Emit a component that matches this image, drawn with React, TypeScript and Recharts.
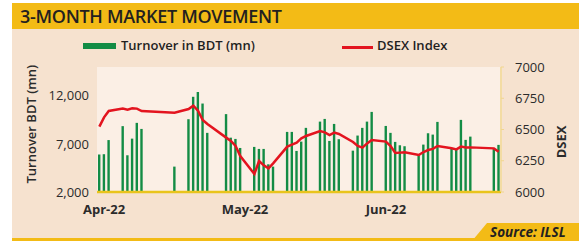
import {
  Bar,
  ComposedChart,
  Line,
  XAxis,
  YAxis,
} from "recharts";

// calendar slots (one per day), bars only on trading days
const slotCount = 86;
const tradingDays = [
  0, 1, 2, 5, 6, 7, 8, 9, 16, 19, 20, 21, 22, 23, 27, 28, 29, 30, 33, 34, 35,
  36, 37, 40, 41, 42, 43, 44, 47, 48, 49, 50, 51, 54, 55, 56, 57, 58, 61, 62,
  63, 64, 65, 68, 69, 70, 71, 72, 75, 76, 77, 78, 79, 84, 85,
];
const turnover = [
  5900, 5930, 7400, 8850, 5820, 7550, 9190, 8560, 4640, 9570, 11900, 12400,
  11200, 8150, 10100, 7650, 7520, 6580, 6690, 6480, 6480, 4880, 4640, 8250,
  8250, 6270, 7240, 8670, 9320, 9600, 7310, 9080, 7490, 6300, 7870, 8670, 9320,
  10330, 8870, 8150, 7210, 6860, 6760, 5930, 6930, 8110, 7970, 9290, 6480,
  6480, 9500, 7420, 7760, 6550, 6900,
];
const dsex = [
  6523, 6597, 6648, 6667, 6659, 6669, 6667, 6648, 6635, 6664, 6691, 6650, 6576,
  6544, 6435, 6408, 6368, 6288, 6144, 6248, 6213, 6189, 6229, 6363, 6379, 6395,
  6429, 6448, 6488, 6477, 6456, 6475, 6464, 6400, 6368, 6355, 6389, 6416, 6403,
  6368, 6312, 6315, 6317, 6296, 6320, 6336, 6345, 6368, 6350, 6341, 6363, 6357,
  6357, 6349, 6322,
];
const monthSlots = [1, 31, 61];
const monthLabels = ["Apr-22", "May-22", "Jun-22"];
const leftTicks = [2000, 7000, 12000];
const rightTicks = [6000, 6250, 6500, 6750, 7000];

const data = Array.from({ length: slotCount }, (_, i) => {
  const k = tradingDays.indexOf(i);
  return {
    slot: i,
    turnover: k >= 0 ? turnover[k] : null,
    dsex: k >= 0 ? dsex[k] : null,
  };
});

const FONT = "'Open Sans', sans-serif";
const YELLOW = "#f3bb16";
const PANEL = "#f6e2cf";
const GREEN = "#138c45";
const RED = "#e3141f";
const TEXT = "#2b2b2b";

export default function App() {
  return (
    <div
      style={{
        position: "absolute",
        left: 0,
        top: 0,
        width: 587,
        height: 245,
        background: "#fff",
        fontFamily: FONT,
        overflow: "hidden",
      }}
    >
      {/* panel */}
      <div
        style={{
          position: "absolute",
          left: 12,
          top: 3,
          width: 567,
          height: 238,
          background: PANEL,
        }}
      />
      <div
        style={{
          position: "absolute",
          left: 12,
          top: 3,
          width: 567,
          height: 26,
          background: YELLOW,
        }}
      />
      <div
        style={{
          position: "absolute",
          left: 20,
          top: 3,
          height: 26,
          lineHeight: "26px",
          fontSize: 18,
          fontWeight: 600,
          color: "#231f20",
          letterSpacing: -0.3,
        }}
      >
        3-MONTH MARKET MOVEMENT
      </div>
      {/* plot background */}
      <div
        style={{
          position: "absolute",
          left: 97,
          top: 67,
          width: 405,
          height: 125,
          background: "#fbefe5",
        }}
      />
      {/* legend */}
      <div
        style={{
          position: "absolute",
          left: 83,
          top: 43,
          width: 33,
          height: 6,
          background: GREEN,
        }}
      />
      <div
        style={{
          position: "absolute",
          left: 121,
          top: 36,
          fontSize: 13,
          lineHeight: "18px",
          color: "#1f1f1f",
          fontWeight: 600,
        }}
      >
        Turnover in BDT (mn)
      </div>
      <div
        style={{
          position: "absolute",
          left: 342,
          top: 46,
          width: 31,
          height: 2.5,
          background: RED,
        }}
      />
      <div
        style={{
          position: "absolute",
          left: 377,
          top: 36,
          fontSize: 13,
          lineHeight: "18px",
          color: "#1f1f1f",
          fontWeight: 600,
        }}
      >
        DSEX Index
      </div>
      {/* bottom rule + source tab */}
      <div
        style={{
          position: "absolute",
          left: 12,
          top: 238,
          width: 567,
          height: 3,
          background: YELLOW,
        }}
      />
      <svg
        style={{ position: "absolute", left: 0, top: 0 }}
        width={587}
        height={245}
      >
        <polygon points="472,241 487,223 579,223 579,241" fill={YELLOW} />
      </svg>
      <div
        style={{
          position: "absolute",
          left: 490,
          top: 223,
          height: 18,
          lineHeight: "18px",
          fontSize: 13.5,
          fontWeight: 700,
          fontStyle: "italic",
          color: "#231f20",
        }}
      >
        Source: ILSL
      </div>

      <div style={{ position: "absolute", left: 0, top: 0 }}>
        <ComposedChart
          width={587}
          height={245}
          data={data}
          margin={{ top: 67, right: 26, bottom: 23, left: 0 }}
        >
          <XAxis
            dataKey="slot"
            type="category"
            height={30}
            interval={0}
            tickLine={false}
            axisLine={{ stroke: "#e9c41c", strokeWidth: 2.5 }}
            tickMargin={7}
            tick={{ fontSize: 13, fontWeight: 700, fill: TEXT, fontFamily: FONT }}
            tickFormatter={(v: number) => {
              const k = monthSlots.indexOf(Number(v));
              return k >= 0 ? monthLabels[k] : "";
            }}
          />
          <YAxis
            yAxisId="left"
            orientation="left"
            width={97}
            domain={[2000, 15000]}
            ticks={leftTicks}
            tickFormatter={(v: number) => v.toLocaleString("en-US")}
            axisLine={false}
            tickLine={false}
            tick={{ fontSize: 13, fill: TEXT, fontFamily: FONT }}
            label={{
              value: "Turnover BDT (mn)",
              angle: -90,
              position: "insideLeft",
              dx: 26,
              dy: 54,
              style: {
                fontSize: 13,
                fontWeight: 600,
                fill: TEXT,
                fontFamily: FONT,
              },
            }}
          />
          <YAxis
            yAxisId="right"
            orientation="right"
            width={60}
            domain={[6000, 7000]}
            ticks={rightTicks}
            axisLine={{ stroke: "#f1d68e", strokeWidth: 1.5 }}
            tickLine={{ stroke: "#f1d68e" }}
            tickSize={3}
            tickMargin={11}
            tick={{ fontSize: 13, fill: TEXT, fontFamily: FONT }}
            label={{
              value: "DSEX",
              angle: -90,
              position: "insideRight",
              dx: 5,
              dy: -4,
              style: {
                fontSize: 13,
                fontWeight: 700,
                fill: TEXT,
                fontFamily: FONT,
              },
            }}
          />
          <Bar
            yAxisId="left"
            dataKey="turnover"
            fill={GREEN}
            barSize={2.4}
            isAnimationActive={false}
          />
          <Line
            yAxisId="right"
            dataKey="dsex"
            stroke={RED}
            strokeWidth={2.5}
            dot={false}
            connectNulls
            type="linear"
            isAnimationActive={false}
          />
        </ComposedChart>
      </div>
    </div>
  );
}
